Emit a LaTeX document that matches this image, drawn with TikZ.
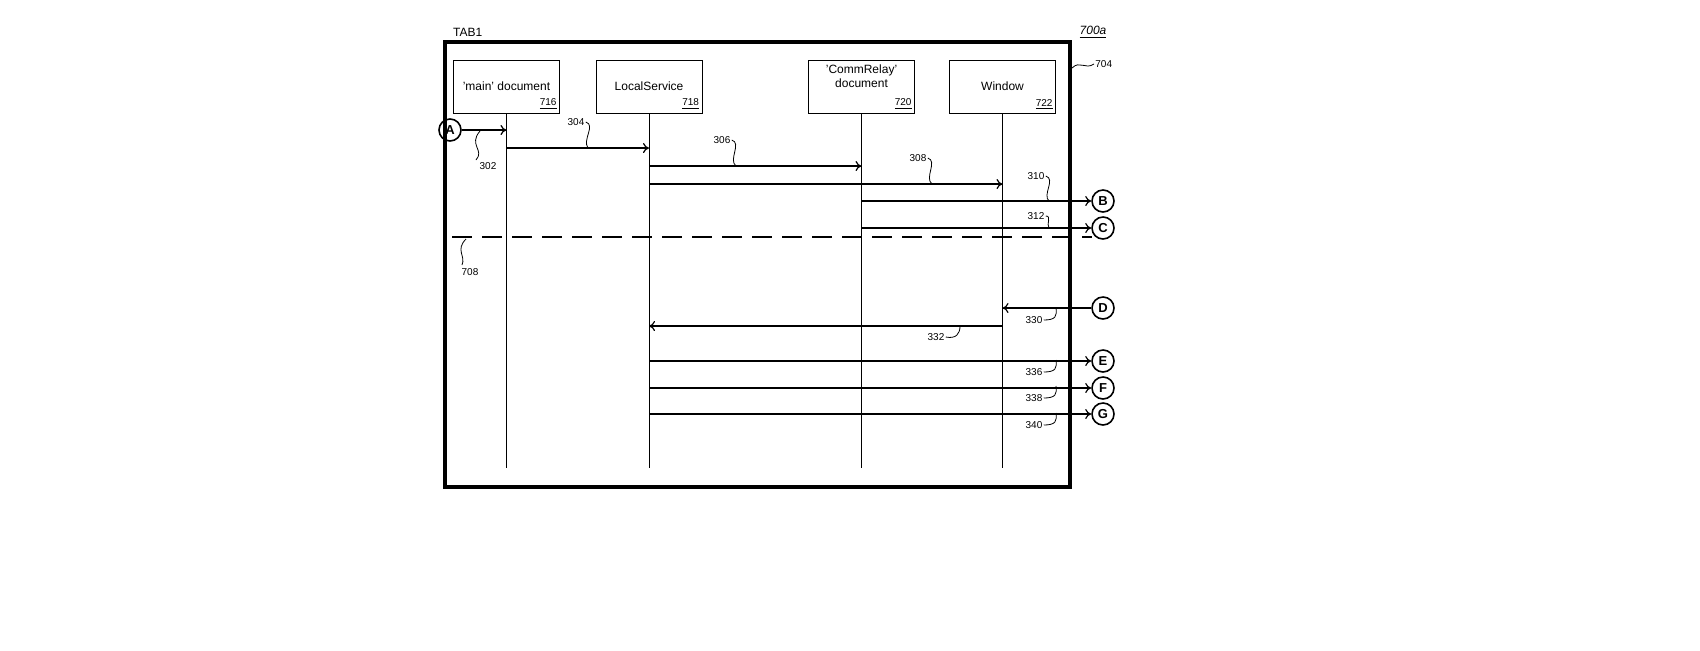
\documentclass[tikz,border=0pt]{standalone}
\usepackage{fontspec}
\setmainfont{Liberation Sans}
\usetikzlibrary{arrows.meta}
\tikzset{
  actor/.style={draw, minimum width=53pt, minimum height=26.5pt, font=\fontsize{6}{7}\selectfont, align=center, inner sep=1pt},
  ref/.style={font=\fontsize{5}{6}\selectfont, inner sep=0.5pt},
  conn/.style={draw, circle, thick, minimum size=11pt, inner sep=0pt, font=\fontsize{6.5}{7}\selectfont\bfseries},
  msg/.style={semithick, -{To[length=3pt,width=5pt]}},
  squig/.style={thin},
}
\begin{document}
\begin{tikzpicture}[x=0.5pt,y=-0.5pt]
  \useasboundingbox (0,0) rectangle (1700,650);
  % Frame
  \draw[line width=1.6pt] (445,42) rectangle (1070,487);
  \node[anchor=west, font=\fontsize{6}{7}\selectfont] (tab) at (446,32) {TAB1};
  \node[font=\fontsize{6}{7}\selectfont\itshape] (fig) at (1093,32) {\underline{700a}};
  \node[ref, anchor=west] (r704) at (1094,64) {704};
  \draw[squig] (1072,68) .. controls (1080,60) and (1085,70) .. (r704.west);

  % Actors
  \node[actor] (main) at (506.5,86.5) {'main' document};
  \node[actor] (local) at (649,86.5) {LocalService};
  \node[actor] (relay) at (861.5,86.5) {'CommRelay'\\document\\[3pt]};
  \node[actor] (win) at (1002.5,86.5) {Window};
  \foreach \a/\n in {main/716, local/718, relay/720, win/722}
    \node[ref, anchor=south east] at ([shift={(-2,-2)}]\a.south east) {\underline{\n}};

  % Lifelines
  \foreach \a in {main, local, relay, win} {
    \coordinate (\a-end) at (\a.south |- 0,468);
    \draw[thin] (\a.south) -- (\a-end);
  }

  % Connectors
  \node[conn] (A) at (450,130) {A};
  \foreach \c/\y in {B/201, C/228, D/308, E/361, F/388, G/414}
    \node[conn] (\c) at (1103,\y) {\c};

  % Messages
  \draw[msg] (A) -- (main.south |- A);
  \draw[msg] (main.south |- 0,148) -- (local.south |- 0,148);
  \draw[msg] (local.south |- 0,166) -- (relay.south |- 0,166);
  \draw[msg] (local.south |- 0,184) -- (win.south |- 0,184);
  \draw[msg] (relay.south |- B) -- (B);
  \draw[msg] (relay.south |- C) -- (C);
  \draw[msg] (D) -- (win.south |- D);
  \draw[msg] (win.south |- 0,326) -- (local.south |- 0,326);
  \draw[msg] (local.south |- E) -- (E);
  \draw[msg] (local.south |- F) -- (F);
  \draw[msg] (local.south |- G) -- (G);

  % Divider
  \draw[line width=1.3pt, dash pattern=on 10pt off 5pt] (452,237) -- (1092,237);

  % Reference labels
  \node[ref] (r302) at (488,166) {302};
  \draw[squig] (480,131) .. controls (468,145) and (485,150) .. (476,160);
  \node[ref] (r304) at (576,122) {304};
  \draw[squig] (r304.east) .. controls (596,125) and (582,140) .. (588,148);
  \node[ref] (r306) at (722,140) {306};
  \draw[squig] (r306.east) .. controls (742,143) and (728,160) .. (736,166);
  \node[ref] (r308) at (918,158) {308};
  \draw[squig] (r308.east) .. controls (938,161) and (924,178) .. (932,184);
  \node[ref] (r310) at (1036,176) {310};
  \draw[squig] (r310.east) .. controls (1056,179) and (1042,195) .. (1049,201);
  \node[ref] (r312) at (1036,216) {312};
  \draw[squig] (r312.east) .. controls (1052,216) and (1046,224) .. (1049,228);
  \node[ref] (r708) at (470,272) {708};
  \draw[squig] (466,239) .. controls (455,250) and (466,256) .. (462,265);
  \node[ref] (r332) at (936,337) {332};
  \draw[squig] (r332.east) .. controls (956,339) and (960,334) .. (960,326);
  \foreach \n/\y in {330/320, 336/372, 338/398, 340/425} {
    \node[ref] (r\n) at (1034,\y) {\n};
    \draw[squig] (r\n.east) .. controls (1056,\y) and (1057,\y-4) .. (1056,\y-12);
  }
\end{tikzpicture}
\end{document}
